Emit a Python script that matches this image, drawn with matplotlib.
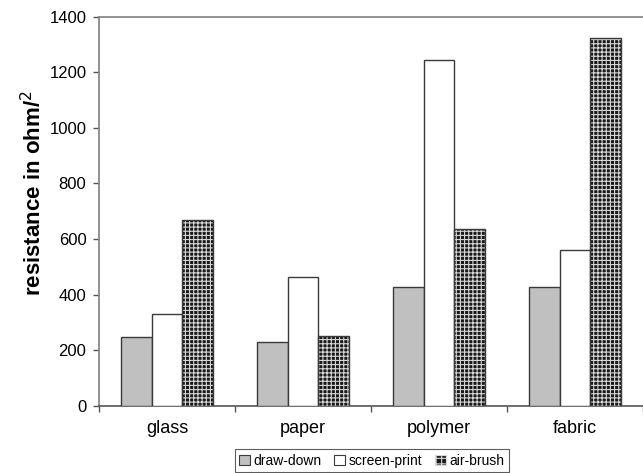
import matplotlib
matplotlib.use("Agg")
import matplotlib.pyplot as plt
import numpy as np
from matplotlib.patches import Patch

categories = ["glass", "paper", "polymer", "fabric"]
series = ["draw-down", "screen-print", "air-brush"]
draw_down = [247, 230, 426, 426]
screen_print = [331, 463, 1243, 561]
air_brush = [669, 252, 636, 1323]
yticks = [0, 200, 400, 600, 800, 1000, 1200, 1400]

plt.rcParams['font.family'] = ['Liberation Sans', 'DejaVu Sans']
plt.rcParams['hatch.linewidth'] = 0.8

fig = plt.figure(figsize=(6.43, 4.73), dpi=100)
ax = fig.add_axes([99/643, 1-406/473, 1-99/643, (406-16.5)/473])

x = np.arange(len(categories))
w = 0.225
edge = '#3a3a3a'
ax.bar(x - w, draw_down, w, color='#c0c0c0', edgecolor=edge, linewidth=1.0, zorder=3)
ax.bar(x, screen_print, w, color='white', edgecolor=edge, linewidth=1.0, zorder=3)
ax.bar(x + w, air_brush, w, color='#1a1a1a', edgecolor='#d8d8d8', hatch='++++', linewidth=0, zorder=3)
ax.bar(x + w, air_brush, w, fill=False, edgecolor=edge, linewidth=1.0, zorder=4)

ax.set_xlim(-0.5, len(categories) - 0.5)
ax.set_ylim(0, 1400)
ax.set_yticks(yticks)
ax.set_yticklabels([str(t) for t in yticks], fontsize=12)
ax.set_xticks(np.arange(-0.5, len(categories), 1.0))
ax.set_xticklabels([])
ax.set_xticks(x, minor=True)
ax.set_xticklabels(categories, minor=True, fontsize=13)
ax.tick_params(axis='x', which='minor', length=0, pad=10)
ax.tick_params(axis='x', which='major', length=4, direction='out', color='#555555', width=1)
ax.tick_params(axis='y', length=4, direction='out', color='#555555', width=1, pad=5)

ax.spines['right'].set_visible(False)
for s in ['left', 'bottom', 'top']:
    ax.spines[s].set_color('#808080')
    ax.spines[s].set_linewidth(1.2)
ax.spines['bottom'].set_color('#555555')

ax.set_ylabel("resistance in ohm/$^2$", fontsize=16, fontweight='bold')
ax.yaxis.set_label_coords(-0.097, 0.546)

handles = [
    Patch(facecolor='#c0c0c0', edgecolor=edge, linewidth=0.8, label=series[0]),
    Patch(facecolor='white', edgecolor=edge, linewidth=0.8, label=series[1]),
    Patch(facecolor='#1a1a1a', edgecolor='#d8d8d8', hatch='+++', linewidth=0.8, label=series[2]),
]
leg = fig.legend(handles=handles, loc='center', bbox_to_anchor=(372/643, 1-460.5/473), ncol=3,
                 fontsize=10, frameon=True, fancybox=False, edgecolor='#333333',
                 handlelength=0.75, handleheight=0.75, handletextpad=0.3, columnspacing=0.9,
                 borderpad=0.3)
leg.get_frame().set_linewidth(0.8)

fig.savefig("out.png", dpi=100)
